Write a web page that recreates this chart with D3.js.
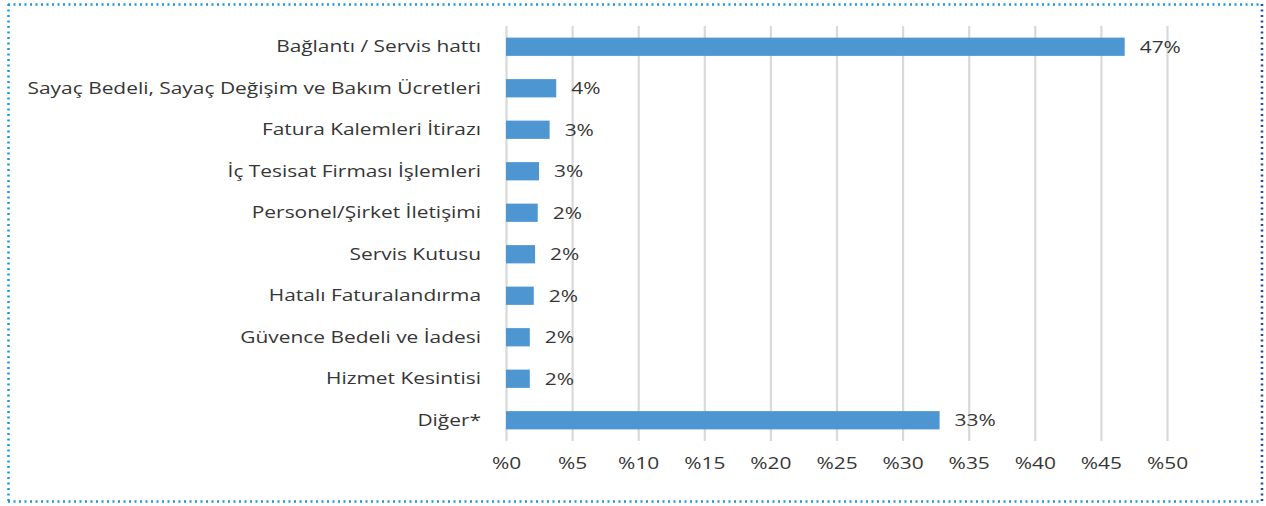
<!DOCTYPE html>
<html>
<head>
<meta charset="utf-8">
<script src="https://cdn.jsdelivr.net/npm/d3@7"></script>
<style>
  html, body { margin: 0; padding: 0; background: #fff; }
  svg { display: block; }
</style>
</head>
<body>
<div id="chart"></div>
<script>
const categories = [
    'Bağlantı / Servis hattı',
    'Sayaç Bedeli, Sayaç Değişim ve Bakım Ücretleri',
    'Fatura Kalemleri İtirazı',
    'İç Tesisat Firması İşlemleri',
    'Personel/Şirket İletişimi',
    'Servis Kutusu',
    'Hatalı Faturalandırma',
    'Güvence Bedeli ve İadesi',
    'Hizmet Kesintisi',
    'Diğer*'
];
const values = [46.8, 3.8, 3.3, 2.5, 2.4, 2.2, 2.1, 1.8, 1.8, 32.8];
const tickValues = [0, 5, 10, 15, 20, 25, 30, 35, 40, 45, 50];

const width = 1266;
const height = 506;
const margin = { top: 26, right: 99, bottom: 65, left: 506 };
const chartWidth = width - margin.left - margin.right;
const chartHeight = height - margin.top - margin.bottom;
const font = '"Open Sans", sans-serif';
const textColor = '#363636';
const stretch = 1.23; // the text in the picture is widened

const svg = d3.select('#chart')
    .append('svg')
    .attr('width', width)
    .attr('height', height);

// Dotted frame
const frame = svg.append('g').attr('fill', 'none')
    .attr('stroke-width', 2.5)
    .attr('stroke-dasharray', '2,3.5');
frame.append('line').attr('x1', 8).attr('y1', 4.5).attr('x2', 1262).attr('y2', 4.5).attr('stroke', '#1b9ad7');
frame.append('line').attr('x1', 8.5).attr('y1', 4).attr('x2', 8.5).attr('y2', 502).attr('stroke', '#1b9ad7');
frame.append('line').attr('x1', 8).attr('y1', 501.5).attr('x2', 1262).attr('y2', 501.5).attr('stroke', '#1b9ad7');
frame.append('line').attr('x1', 1262).attr('y1', 4).attr('x2', 1262).attr('y2', 502).attr('stroke', '#1f4e96');

const x = d3.scaleLinear()
    .domain([0, 50])
    .range([0, chartWidth]);

const y = d3.scaleBand()
    .domain(categories)
    .range([0, chartHeight])
    .paddingInner(0.56)
    .paddingOuter(0.28);

const g = svg.append('g')
    .attr('transform', `translate(${margin.left}, ${margin.top})`);

// Vertical grid lines
g.append('g')
    .call(d3.axisBottom(x)
        .tickValues(tickValues)
        .tickSize(chartHeight)
        .tickFormat(''))
    .call(s => s.select('.domain').remove())
    .selectAll('line')
    .attr('stroke', '#d9d9d9')
    .attr('stroke-width', 2.2);

// Bars
g.selectAll('rect.bar')
    .data(values)
    .enter().append('rect')
    .attr('class', 'bar')
    .attr('x', x(0))
    .attr('y', (d, i) => y(categories[i]))
    .attr('width', d => x(d) - x(0))
    .attr('height', y.bandwidth())
    .attr('fill', '#4e96d1');

// Value labels
g.selectAll('text.value')
    .data(values)
    .enter().append('text')
    .attr('class', 'value')
    .attr('transform', (d, i) => `translate(${x(d) + 15}, ${y(categories[i]) + y.bandwidth() / 2}) scale(${stretch}, 1)`)
    .attr('dy', '0.36em')
    .style('font-family', font)
    .style('font-size', '17px')
    .style('fill', textColor)
    .text(d => Math.round(d) + '%');

// Category axis
g.append('g')
    .call(d3.axisLeft(y).tickSize(0).tickPadding(25))
    .call(s => s.select('.domain').remove())
    .selectAll('text')
    .attr('x', -25 / stretch)
    .attr('transform', `scale(${stretch}, 1)`)
    .style('font-family', font)
    .style('font-size', '17px')
    .style('fill', textColor);

// Value axis labels
g.append('g')
    .attr('transform', `translate(0, ${chartHeight})`)
    .call(d3.axisBottom(x)
        .tickValues(tickValues)
        .tickSize(0)
        .tickPadding(16)
        .tickFormat(d => '%' + d))
    .call(s => s.select('.domain').remove())
    .selectAll('text')
    .attr('transform', `scale(${stretch}, 1)`)
    .style('font-family', font)
    .style('font-size', '17px')
    .style('fill', textColor);
</script>
</body>
</html>
